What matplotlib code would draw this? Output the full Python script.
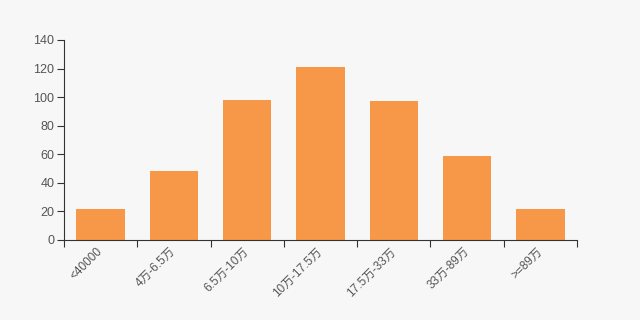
import matplotlib
matplotlib.use("Agg")
import matplotlib.pyplot as plt
import numpy as np

plt.rcParams['font.family'] = ['Liberation Sans', 'Noto Sans CJK SC', 'DejaVu Sans']

categories = ["<40000", "4万-6.5万", "6.5万-10万", "10万-17.5万", "17.5万-33万", "33万-89万", ">=89万"]
values = [22, 48, 98, 121, 97, 59, 22]
yticks = [0, 20, 40, 60, 80, 100, 120, 140]

bg = "#f7f7f7"
fig = plt.figure(figsize=(6.4, 3.2), dpi=100, facecolor=bg)
ax = fig.add_axes([0.1, 0.25, 0.8016, 0.625], facecolor=bg)

x = np.arange(len(categories))
ax.bar(x, values, width=0.66, color="#F79849", zorder=2)

ax.set_xlim(-0.5, len(categories) - 0.5)
ax.set_ylim(0, 140)
ax.set_yticks(yticks)
ax.set_yticklabels([str(v) for v in yticks])

ax.set_xticks(np.arange(len(categories) + 1) - 0.5)
ax.set_xticklabels([])
ax.set_xticks(x, minor=True)
ax.set_xticklabels(categories, minor=True, rotation=45, ha="right", va="center",
                   rotation_mode="anchor")
ax.tick_params(axis="x", which="minor", length=0, pad=7, labelsize=8.5, labelcolor="#555555")
ax.tick_params(axis="x", which="major", length=5, color="#333333")
ax.tick_params(axis="y", length=5, color="#333333", labelsize=9, labelcolor="#555555", pad=2)

for s in ["top", "right"]:
    ax.spines[s].set_visible(False)
for s in ["left", "bottom"]:
    ax.spines[s].set_color("#333333")
    ax.spines[s].set_linewidth(0.8)

fig.savefig("out.png", dpi=100, facecolor=bg)
